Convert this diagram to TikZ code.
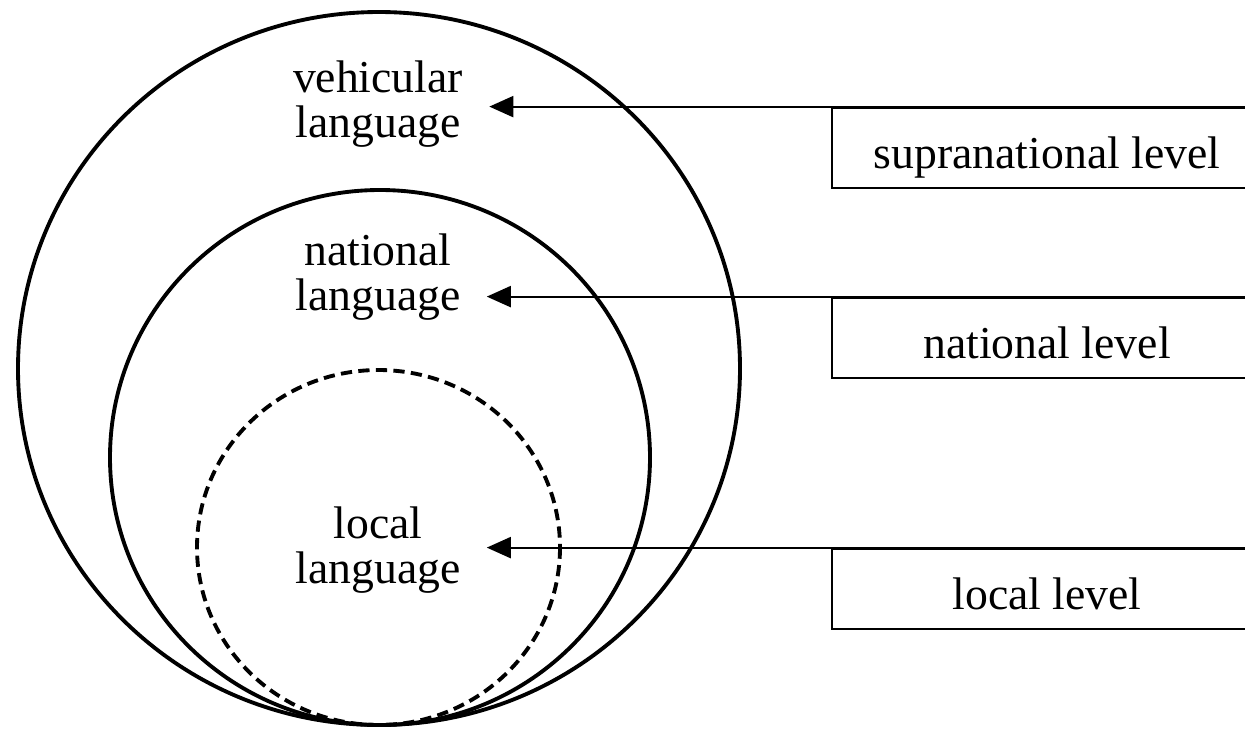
\documentclass[tikz,border=0pt]{standalone}
\usepackage{fontspec}
\setmainfont{Liberation Serif}
\usepackage{tikz}
\usetikzlibrary{arrows.meta,positioning,calc}

\begin{document}
\begin{tikzpicture}[
        x=0.02cm, y=-0.02cm,
        ring/.style={line width=2.2pt},
        lang/.style={align=center, inner sep=0pt, font=\fontsize{26}{26}\selectfont},
        levelbox/.style={draw, line width=1.6pt, minimum width=8.6cm, minimum height=1.6cm,
          inner sep=0pt, text height=24pt, text depth=1pt, font=\fontsize{26}{26}\selectfont},
        pointer/.style={-{Triangle[length=0.48cm,width=0.42cm]}, line width=1.2pt},
        >=Stealth
      ]
        \useasboundingbox (0,0) rectangle (1245,731);

        % nested circles, all touching at the bottom
        \draw[ring] (379,368.5) ellipse [x radius=361, y radius=356.5];
        \draw[ring] (380,457.5) ellipse [x radius=270, y radius=267.5];
        \draw[ring, dash pattern=on 6.4pt off 3.6pt] (378.5,547.5) ellipse [x radius=181.5, y radius=177.5];

        \node[lang] (vehicular) at (378,104) {vehicular\\language};
        \node[lang] (national) at (378,277) {national\\language};
        \node[lang] (local) at (378,550) {local\\language};

        % levels on the right
        \node[levelbox] (supralevel) at (1047,148) {supranational level};
        \node[levelbox] (natlevel) at (1047,338) {national level};
        \node[levelbox] (loclevel) at (1047,589) {local level};

        \draw[pointer] (supralevel.north east) -- ([xshift=0.52cm]vehicular.east |- supralevel.north);
        \draw[pointer] (natlevel.north east) -- ([xshift=0.52cm]national.east |- natlevel.north);
        \draw[pointer] (loclevel.north east) -- ([xshift=0.52cm]local.east |- loclevel.north);
      \end{tikzpicture}
\end{document}
